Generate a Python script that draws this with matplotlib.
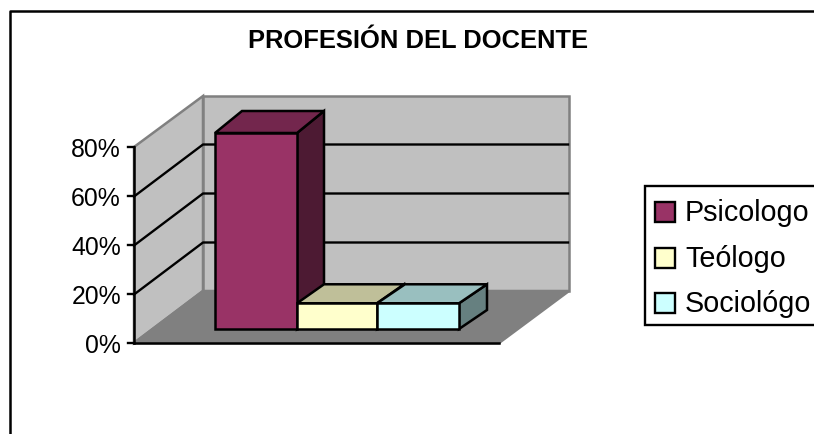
import matplotlib
matplotlib.use("Agg")
from matplotlib import pyplot as plt
from matplotlib.patches import Polygon, Rectangle

title = "PROFESIÓN DEL DOCENTE"
categories = ["Psicologo", "Teólogo", "Sociológo"]
values = [80, 10.5, 10.5]
tick_values = [0, 20, 40, 60, 80]
tick_labels = ["0%", "20%", "40%", "60%", "80%"]

face_colors = ["#993366", "#FFFFCC", "#CCFFFF"]
top_colors = ["#73264D", "#BFBF99", "#99BFBF"]
side_colors = ["#4D1A33", "#808066", "#668080"]

plt.rcParams["font.family"] = ["Liberation Sans", "DejaVu Sans"]

fig = plt.figure(figsize=(8.14, 4.34), dpi=100)
ax = fig.add_axes([0, 0, 1, 1])
ax.set_xlim(0, 814)
ax.set_ylim(434, 0)
ax.axis("off")

#Frame of the plot box, in pixels
left = 134
right = 499
floor_y = 343
depth_x = 69
depth_y = 52
px_per_pct = 196 / 80

def wall_y(value):
    return floor_y - value * px_per_pct

def poly(points, color, edge="black", lw=1.8, z=1):
    ax.add_patch(Polygon(points, closed=True, facecolor=color, edgecolor=edge, linewidth=lw, zorder=z, joinstyle="miter"))

top_front = wall_y(tick_values[-1])
top_back = top_front - depth_y + 1

#Walls and floor
poly([(left, floor_y), (left + depth_x, floor_y - depth_y), (left + depth_x, top_back), (left, top_front)], "#C0C0C0", "#808080")
poly([(left + depth_x, floor_y - depth_y), (right + depth_x + 1, floor_y - depth_y), (right + depth_x + 1, top_back), (left + depth_x, top_back)], "#C0C0C0", "#808080")
poly([(left, floor_y), (right, floor_y), (right + depth_x + 1, floor_y - depth_y), (left + depth_x, floor_y - depth_y)], "#808080", "#808080", z=1.1)

#Gridlines
for v in tick_values[1:-1]:
    y = wall_y(v) + 0.5
    ax.plot([left, left + depth_x, right + depth_x], [y, y - depth_y, y - depth_y], color="black", lw=1.7, zorder=1.5)

#Axis lines and tick marks
ax.plot([left, right], [floor_y, floor_y], color="black", lw=1.8, zorder=2)
ax.plot([left, left], [floor_y, top_front], color="black", lw=1.8, zorder=2)
for v, label in zip(tick_values, tick_labels):
    y = wall_y(v)
    ax.plot([left - 6, left], [y, y], color="black", lw=1.7, zorder=2)
    ax.text(left - 13, y + 3, label, ha="right", va="center", fontsize=17.8, color="black")

#Bars
bar_edges = [215, 297, 377, 459]
bar_base = 329
bar_dx = [27, 27, 28]
bar_dy = [22, 19, 19]
for i, v in enumerate(values):
    x0 = bar_edges[i]
    x1 = bar_edges[i + 1]
    y0 = bar_base
    y1 = bar_base - v * px_per_pct
    dx = bar_dx[i]
    dy = bar_dy[i]
    z = 3 + i
    poly([(x1, y0), (x1 + dx, y0 - dy), (x1 + dx, y1 - dy), (x1, y1)], side_colors[i], z=z)
    poly([(x0, y1), (x1, y1), (x1 + dx, y1 - dy), (x0 + dx, y1 - dy)], top_colors[i], z=z)
    poly([(x0, y0), (x1, y0), (x1, y1), (x0, y1)], face_colors[i], z=z + 0.5)

ax.text(418, 41, title, ha="center", va="center", fontsize=18.4, fontweight="bold", color="black")

#Legend
ax.add_patch(Rectangle((645, 186), 175, 139, facecolor="white", edgecolor="black", linewidth=1.7, zorder=6))
for i, name in enumerate(categories):
    cy = 212 + i * 45.7
    ax.add_patch(Rectangle((655, cy - 10), 20, 20, facecolor=face_colors[i], edgecolor="black", linewidth=1.7, zorder=7))
    ax.text(685, cy + 1, name, ha="left", va="center", fontsize=20.7, color="black", zorder=7)

#Outer border
ax.plot([9.5, 9.5, 814], [434, 10.5, 10.5], color="black", lw=1.8, zorder=8)

fig.savefig("out.png", dpi=100)
